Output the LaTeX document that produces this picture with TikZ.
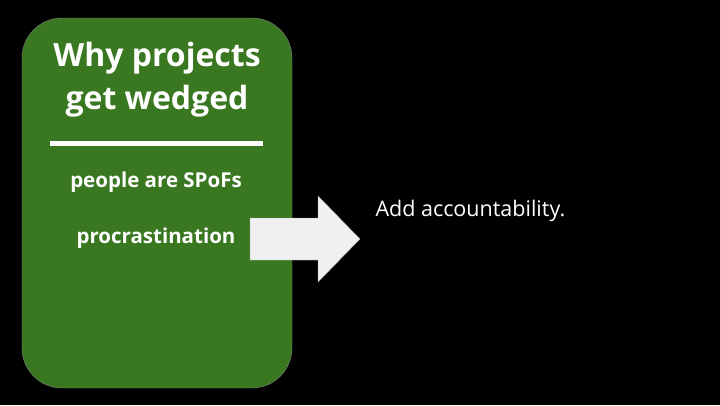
\documentclass[tikz,border=0pt]{standalone}
\usepackage{fontspec}
\setmainfont{Open Sans}
\usetikzlibrary{positioning}
\definecolor{boxgreen}{HTML}{3A7721}
\definecolor{arrowgray}{HTML}{F0F0F0}

\begin{document}
\begin{tikzpicture}[x=1pt,y=-1pt,
    title/.style={text=white, font=\fontsize{32}{43}\selectfont\bfseries, align=center},
    item/.style={text=white, font=\fontsize{20.5}{24}\selectfont\bfseries},
    note/.style={text=white, font=\fontsize{21.5}{25}\selectfont, anchor=west}]
    % background
    \fill[black] (0,0) rectangle (720,405);
    \useasboundingbox (0,0) rectangle (720,405);
    % the green panel
    \draw[fill=boxgreen, draw=gray, rounded corners=40pt] (22,18) rectangle (292,388);
    \node[title] (head) at (157,80) {Why projects\\get wedged};
    \draw[white, line width=5pt] (50,143) -- (263,143);
    \node[item] (spof) at (156,182) {people are SPoFs};
    \node[item] (procr) at (156,238) {procrastination};
    % the arrow
    \draw[draw=gray!70, fill=arrowgray]
        (250,218) -- (318,218) -- (318,196) -- (360,239) -- (318,282)
        -- (318,260) -- (250,260) -- cycle;
    \node[note] (accnt) at (372,211) {Add accountability.};
\end{tikzpicture}
\end{document}
